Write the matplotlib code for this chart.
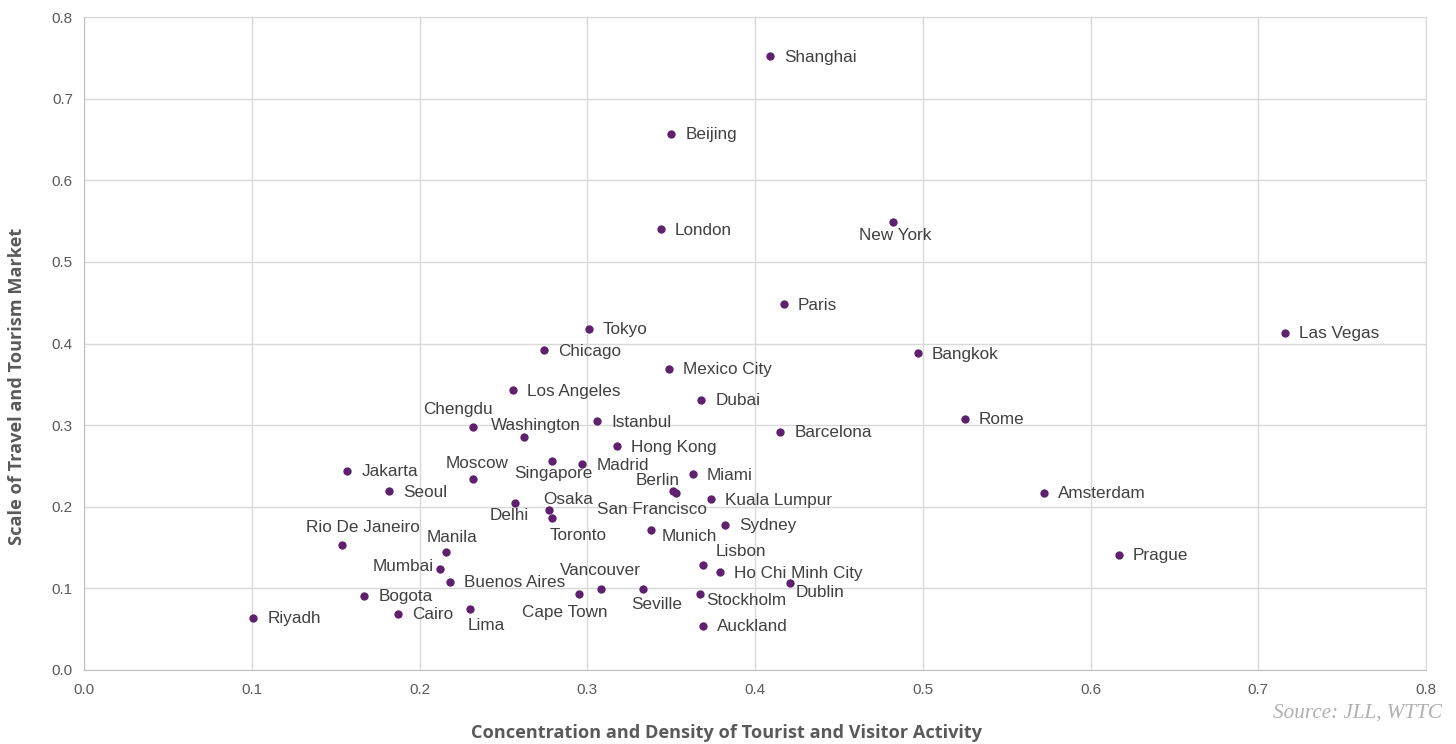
import matplotlib.pyplot as plt

# City scores: concentration/density (x) vs scale of market (y)
cities = [
    'Shanghai', 'Beijing', 'London', 'New York', 'Paris', 'Las Vegas', 'Tokyo',
    'Bangkok', 'Chicago', 'Mexico City', 'Los Angeles', 'Dubai', 'Rome', 'Istanbul',
    'Chengdu', 'Barcelona', 'Washington', 'Hong Kong', 'Jakarta', 'Singapore',
    'Madrid', 'Moscow', 'Miami', 'Seoul', 'Amsterdam', 'Berlin', 'San Francisco',
    'Kuala Lumpur', 'Delhi', 'Osaka', 'Toronto', 'Sydney', 'Munich',
    'Rio De Janeiro', 'Manila', 'Prague', 'Lisbon', 'Mumbai', 'Ho Chi Minh City',
    'Buenos Aires', 'Dublin', 'Vancouver', 'Seville', 'Cape Town', 'Stockholm',
    'Bogota', 'Lima', 'Cairo', 'Riyadh', 'Auckland',
]
concentration = [
    0.409, 0.350, 0.344, 0.482, 0.417, 0.716, 0.301,
    0.497, 0.274, 0.349, 0.256, 0.368, 0.525, 0.306,
    0.232, 0.415, 0.262, 0.318, 0.157, 0.279,
    0.297, 0.232, 0.363, 0.182, 0.572, 0.351, 0.353,
    0.374, 0.257, 0.277, 0.279, 0.382, 0.338,
    0.154, 0.216, 0.617, 0.369, 0.212, 0.379,
    0.218, 0.421, 0.308, 0.333, 0.295, 0.367,
    0.167, 0.230, 0.187, 0.101, 0.369,
]
scale = [
    0.752, 0.657, 0.540, 0.549, 0.448, 0.413, 0.418,
    0.388, 0.392, 0.369, 0.343, 0.331, 0.308, 0.305,
    0.298, 0.292, 0.285, 0.274, 0.244, 0.256,
    0.252, 0.234, 0.240, 0.219, 0.217, 0.219, 0.217,
    0.209, 0.205, 0.196, 0.186, 0.178, 0.172,
    0.153, 0.145, 0.141, 0.129, 0.124, 0.120,
    0.108, 0.107, 0.099, 0.099, 0.093, 0.093,
    0.091, 0.075, 0.069, 0.064, 0.054,
]

# label placement (pixel offset of label centre); others sit right of the dot
label_pos = {
    'New York': (3, -14), 'Chengdu': (-15, 17), 'Washington': (12, 12),
    'Singapore': (1, -12), 'Moscow': (4, 16), 'Berlin': (-15, 11),
    'San Francisco': (-24, -17), 'Delhi': (-6, -13), 'Osaka': (20, 11),
    'Toronto': (26, -17), 'Munich': (38, -7), 'Rio De Janeiro': (21, 18),
    'Manila': (6, 14), 'Lisbon': (38, 13), 'Mumbai': (-36, 2),
    'Vancouver': (0, 19), 'Seville': (14, -15), 'Cape Town': (-14, -18),
    'Lima': (16, -17), 'Dublin': (30, -10), 'Stockholm': (47, -6),
}

fig = plt.figure(figsize=(14.56, 7.44), dpi=100)
ax = fig.add_axes([0.0577, 0.0995, 0.9217, 0.8775])

ax.scatter(concentration, scale, s=36, color='#5f206e', zorder=3, linewidths=0)

for name, x, y in zip(cities, concentration, scale):
    if name in label_pos:
        dx, dy = label_pos[name]
        ax.annotate(name, (x, y), xytext=(dx, dy), textcoords='offset pixels',
                    ha='center', va='center', fontsize=12.3, color='#404040',
                    family='Liberation Sans')
    else:
        ax.annotate(name, (x, y), xytext=(14, -1), textcoords='offset pixels',
                    ha='left', va='center', fontsize=12.3, color='#404040',
                    family='Liberation Sans')

ax.set_xlim(0, 0.8)
ax.set_ylim(0, 0.8)
ax.set_xticks([i / 10 for i in range(9)])
ax.set_yticks([i / 10 for i in range(9)])
ax.set_xticklabels([f'{i / 10:.1f}' for i in range(9)])
ax.set_yticklabels([f'{i / 10:.1f}' for i in range(9)])
ax.tick_params(length=0, labelsize=11, labelcolor='#595959', pad=8)
ax.tick_params(axis='x', pad=9.5)
for lab in ax.get_xticklabels() + ax.get_yticklabels():
    lab.set_family('Liberation Sans')

ax.grid(True, color='#d9d9d9', linewidth=1)
ax.set_axisbelow(True)
for side in ['top', 'right']:
    ax.spines[side].set_color('#d9d9d9')
for side in ['left', 'bottom']:
    ax.spines[side].set_color('#bfbfbf')

# axis titles placed on the figure
fig.text(0.4993, 0.0148, 'Concentration and Density of Tourist and Visitor Activity',
         ha='center', va='center', fontsize=13.1, fontweight='bold',
         color='#595959', family='Open Sans')
fig.text(0.0115, 0.4805, 'Scale of Travel and Tourism Market', ha='center',
         va='center', rotation=90, fontsize=13.1, fontweight='bold',
         color='#595959', family='Open Sans')

fig.text(0.9904, 0.041, 'Source: JLL, WTTC', ha='right', va='center',
         fontsize=15.2, style='italic', color='#b0b0b0', family='Liberation Serif')

fig.savefig('out.png', dpi=100)
